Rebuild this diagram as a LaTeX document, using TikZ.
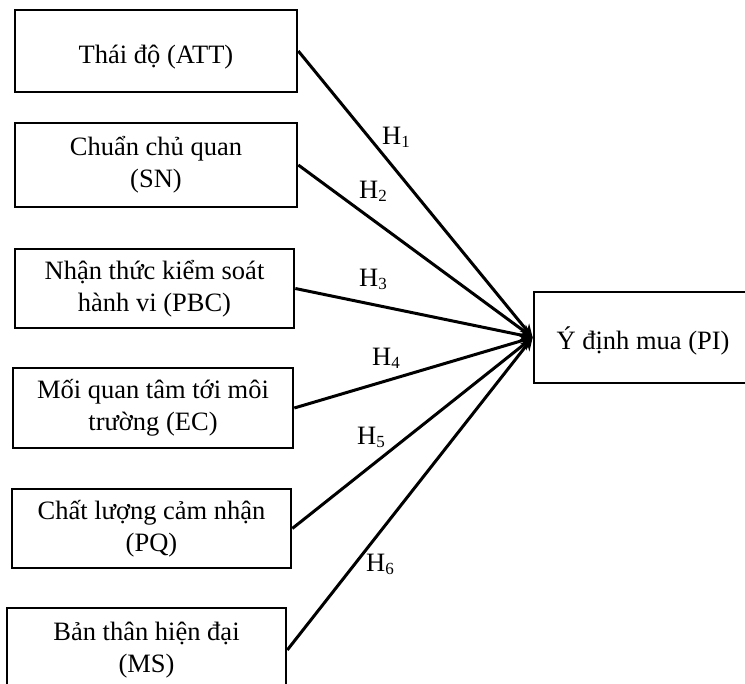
\documentclass[tikz,border=0pt]{standalone}
\usepackage{fontspec}
\setmainfont{Liberation Serif}
\usetikzlibrary{arrows.meta}
\newcommand{\hyp}[1]{H\raisebox{-0.12em}{\fontsize{17}{17}\selectfont #1}}

\begin{document}
\begin{tikzpicture}[x=1pt,y=-1pt,
  every node/.style={font=\fontsize{26.5}{32}\selectfont},
  factor/.style={draw,align=center,inner sep=0pt,line width=2.6pt,minimum width=280pt,minimum height=80pt,
    execute at begin node={\rule{0pt}{30pt}}},
  link/.style={-{Stealth[length=13pt,width=12pt]},line width=3pt}]
  \clip (0,0) rectangle (745,684);
  \useasboundingbox (0,0) rectangle (745,684);
  % factors
  \node[factor,minimum width=282pt,minimum height=82pt] (att) at (156,51) {Thái độ (ATT)};
  \node[factor,minimum width=282pt,minimum height=84pt] (sn) at (156,165) {Chuẩn chủ quan\\(SN)};
  \node[factor,minimum width=279pt,minimum height=79pt] (pbc) at (154.5,288.5) {Nhận thức kiểm soát\\hành vi (PBC)};
  \node[factor] (ec) at (153,408) {Mối quan tâm tới môi\\trường (EC)};
  \node[factor,minimum width=279pt,minimum height=79pt] (pq) at (151.5,528.5) {Chất lượng cảm nhận\\(PQ)};
  \node[factor,minimum width=279pt,minimum height=84pt] (ms) at (146.5,650) {Bản thân hiện đại\\(MS)};
  \node[factor,minimum width=218pt,minimum height=91pt] (pi) at (643,337.5) {Ý định mua (PI)};
  % paths
  \foreach \src in {att,sn,pbc,ec,pq,ms}
    \draw[link] (\src.east) -- (pi.west);
  % labels
  \node (h1) at (396,137) {\hyp{1}};
  \node (h2) at (373,191) {\hyp{2}};
  \node (h3) at (373,279) {\hyp{3}};
  \node (h4) at (386,358) {\hyp{4}};
  \node (h5) at (371,437) {\hyp{5}};
  \node (h6) at (380,564) {\hyp{6}};
\end{tikzpicture}
\end{document}
